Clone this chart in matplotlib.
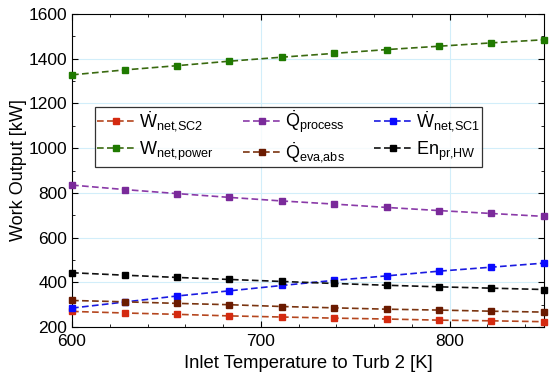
import numpy as np
import matplotlib
matplotlib.use("Agg")
import matplotlib.pyplot as plt
from matplotlib.ticker import MultipleLocator

plt.rcParams['font.family'] = ['Liberation Sans', 'DejaVu Sans']
plt.rcParams['mathtext.fontset'] = 'custom'
plt.rcParams['mathtext.rm'] = 'Liberation Sans'
plt.rcParams['mathtext.it'] = 'Liberation Sans'
plt.rcParams['mathtext.default'] = 'regular'

temps = [600, 627.8, 655.6, 683.3, 711.1, 738.9, 766.7, 794.4, 822.2, 850]
w_net_sc2 = [270, 263, 257, 250, 245, 240, 236, 231, 228, 224]
q_process = [835, 815, 797, 780, 764, 750, 735, 721, 708, 695]
w_net_sc1 = [285, 312, 339, 362, 386, 409, 429, 450, 468, 486]
w_net_power = [1328, 1350, 1369, 1389, 1407, 1424, 1441, 1456, 1471, 1485]
q_eva_abs = [319, 313, 306, 300, 292, 286, 280, 276, 271, 267]
en_pr_hw = [443, 432, 422, 413, 404, 395, 387, 380, 374, 368]

labels = [r'$\dot{W}_{net{,}SC2}$', r'$\dot{Q}_{process}$', r'$\dot{W}_{net{,}SC1}$',
          r'$W_{net{,}power}$', r'$\dot{Q}_{eva{,}abs}$', r'$En_{pr{,}HW}$']
series = [w_net_sc2, q_process, w_net_sc1, w_net_power, q_eva_abs, en_pr_hw]
line_colors = ['#B5461E', '#8A3AA8', '#1A1AE0', '#3A6A10', '#7A3410', '#111111']
marker_colors = ['#D42A10', '#7A2A9A', '#0A0AFF', '#1F7A00', '#6A1A00', '#000000']

fig = plt.figure(figsize=(5.5, 3.79), dpi=100)
ax = fig.add_axes([0.131, 0.137, 0.858, 0.826])

handles = []
for ys, lc, mc, lab in zip(series, line_colors, marker_colors, labels):
    h, = ax.plot(temps, ys, linestyle='--', dashes=(4, 2), color=lc, linewidth=1.2,
                 marker='s', markersize=5, markerfacecolor=mc, markeredgecolor=mc,
                 label=lab, clip_on=False, zorder=3)
    handles.append(h)

ax.set_xlim(600, 850)
ax.set_ylim(200, 1600)
ax.xaxis.set_major_locator(MultipleLocator(100))
ax.xaxis.set_minor_locator(MultipleLocator(20))
ax.yaxis.set_major_locator(MultipleLocator(200))
ax.yaxis.set_minor_locator(MultipleLocator(100))
ax.tick_params(which='both', direction='in', top=True, right=True, labelsize=12.5)
ax.tick_params(which='major', length=4)
ax.tick_params(which='minor', length=2.5)
ax.tick_params(axis='x', which='major', pad=5)
ax.grid(True, which='major', color='#d2eefa', linewidth=0.8, zorder=0)
ax.set_axisbelow(True)

ax.set_xlabel('Inlet Temperature to Turb 2 [K]', fontsize=13.3, labelpad=4)
ax.set_ylabel('Work Output [kW]', fontsize=13, labelpad=1)

# column-major order so rows read: SC2, Qprocess, SC1 / power, eva, En
order = [0, 3, 1, 4, 2, 5]
leg = ax.legend(handles=[handles[i] for i in order], ncol=3, loc='upper left',
                bbox_to_anchor=(0.049, 0.703),
                fontsize=13, frameon=True, fancybox=False, edgecolor='black',
                handlelength=2.1, columnspacing=1.6, borderpad=0.1, labelspacing=0.3,
                handletextpad=0.25, borderaxespad=0)
leg.get_frame().set_linewidth(0.9)

fig.savefig('out.png', dpi=100)
